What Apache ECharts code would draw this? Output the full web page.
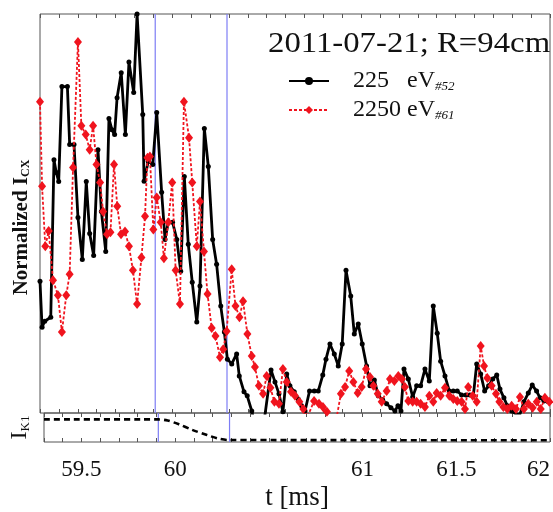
<!DOCTYPE html>
<html>
<head>
<meta charset="utf-8">
<script src="https://cdn.jsdelivr.net/npm/echarts@6/dist/echarts.min.js"></script>
<style>
html, body { margin: 0; padding: 0; background: #fff; }
#chart { width: 553px; height: 512px; }
</style>
</head>
<body>
<div id="chart"></div>
<script>
// x tick labels shown on the time axis (60.5 is not printed in the original)
const tickLabels = [59.5, 60, 61, 61.5, 62]
// blue vertical markers [ms]
const markTimes = [59.91, 60.29]

// normalized I_CX, 225 eV (#52)
const ev225 = [
  [59.300, 0.330], [59.311, 0.215], [59.325, 0.230], [59.357, 0.240], [59.374, 0.635], [59.386, 0.603],
  [59.399, 0.580], [59.416, 0.818], [59.445, 0.818], [59.457, 0.673], [59.480, 0.673], [59.501, 0.490],
  [59.524, 0.385], [59.545, 0.580], [59.563, 0.450], [59.584, 0.395], [59.607, 0.660], [59.625, 0.505],
  [59.648, 0.405], [59.665, 0.738], [59.681, 0.710], [59.695, 0.698], [59.708, 0.790], [59.730, 0.853],
  [59.752, 0.698], [59.771, 0.880], [59.796, 0.803], [59.814, 1.000], [59.844, 0.748], [59.851, 0.581],
  [59.873, 0.631], [59.897, 0.623], [59.918, 0.753], [59.944, 0.553], [59.962, 0.435], [59.979, 0.478],
  [60.002, 0.478], [60.024, 0.435], [60.045, 0.355], [60.064, 0.593], [60.085, 0.423], [60.106, 0.328],
  [60.130, 0.228], [60.147, 0.318], [60.170, 0.713], [60.191, 0.618], [60.214, 0.435], [60.235, 0.373],
  [60.257, 0.268], [60.276, 0.203], [60.292, 0.135], [60.315, 0.123], [60.341, 0.148], [60.355, 0.093],
  [60.380, 0.053], [60.397, 0.043], [60.421, 0.005], [60.443, -0.040], [60.465, -0.040], [60.491, -0.005],
  [60.523, 0.108], [60.544, 0.078], [60.565, 0.048], [60.586, 0.003], [60.606, 0.098], [60.623, 0.068],
  [60.646, 0.053], [60.667, 0.035], [60.685, 0.018], [60.703, 0.005], [60.727, 0.055], [60.752, 0.055],
  [60.773, 0.055], [60.797, 0.095], [60.814, 0.135], [60.835, 0.173], [60.858, 0.148], [60.879, 0.118],
  [60.900, 0.173], [60.920, 0.358], [60.945, 0.293], [60.964, 0.198], [60.985, 0.223], [61.006, 0.173],
  [61.029, 0.118], [61.047, 0.068], [61.070, 0.083], [61.091, 0.043], [61.114, 0.033], [61.135, 0.023],
  [61.158, 0.013], [61.179, 0.005], [61.195, 0.018], [61.211, 0.005], [61.227, 0.110], [61.250, 0.085],
  [61.273, 0.040], [61.294, 0.068], [61.315, 0.068], [61.338, 0.110], [61.361, 0.080], [61.382, 0.268],
  [61.403, 0.200], [61.421, 0.130], [61.444, 0.093], [61.467, 0.055], [61.488, 0.055], [61.509, 0.055],
  [61.532, 0.045], [61.555, 0.045], [61.576, 0.045], [61.594, 0.043], [61.612, 0.123], [61.633, 0.098],
  [61.654, 0.055], [61.675, 0.068], [61.697, 0.085], [61.718, 0.095], [61.735, 0.060], [61.756, 0.038],
  [61.774, 0.018], [61.797, 0.005], [61.820, -0.003], [61.841, -0.003], [61.862, 0.028], [61.885, 0.050],
  [61.906, 0.070], [61.929, 0.055], [61.947, 0.038], [61.968, 0.030], [61.991, 0.028]
]

// normalized I_CX, 2250 eV (#61)
const ev2250 = [
  [59.300, 0.780], [59.311, 0.568], [59.328, 0.418], [59.346, 0.456], [59.369, 0.333], [59.395, 0.295],
  [59.416, 0.203], [59.439, 0.295], [59.457, 0.348], [59.475, 0.615], [59.501, 0.930], [59.519, 0.720],
  [59.542, 0.698], [59.563, 0.660], [59.581, 0.720], [59.599, 0.623], [59.618, 0.578], [59.634, 0.505],
  [59.655, 0.448], [59.673, 0.453], [59.692, 0.623], [59.709, 0.518], [59.729, 0.448], [59.750, 0.455],
  [59.771, 0.418], [59.792, 0.358], [59.814, 0.273], [59.837, 0.390], [59.856, 0.493], [59.869, 0.640],
  [59.882, 0.643], [59.900, 0.460], [59.918, 0.540], [59.939, 0.478], [59.956, 0.388], [59.979, 0.478],
  [60.000, 0.578], [60.018, 0.358], [60.041, 0.273], [60.062, 0.780], [60.089, 0.690], [60.106, 0.578],
  [60.130, 0.418], [60.147, 0.530], [60.168, 0.405], [60.187, 0.298], [60.209, 0.213], [60.229, 0.193],
  [60.253, 0.140], [60.270, 0.160], [60.288, 0.205], [60.315, 0.360], [60.335, 0.268], [60.356, 0.240],
  [60.375, 0.280], [60.398, 0.198], [60.421, 0.143], [60.438, 0.115], [60.459, 0.068], [60.481, 0.048],
  [60.500, 0.093], [60.520, 0.063], [60.541, 0.028], [60.565, 0.023], [60.586, 0.110], [60.606, 0.078],
  [60.629, 0.053], [60.650, 0.043], [60.673, 0.028], [60.694, 0.010], [60.716, -0.010], [60.751, 0.030],
  [60.777, 0.023], [60.798, 0.015], [60.819, 0.003], [60.841, -0.020], [60.867, -0.020], [60.893, 0.048],
  [60.915, 0.065], [60.937, 0.105], [60.959, 0.078], [60.982, 0.050], [61.003, 0.065], [61.026, 0.110],
  [61.047, 0.090], [61.065, 0.068], [61.088, 0.048], [61.109, 0.028], [61.135, 0.055], [61.153, 0.085],
  [61.176, 0.080], [61.197, 0.093], [61.216, 0.085], [61.232, 0.065], [61.250, 0.030], [61.273, 0.028],
  [61.294, 0.028], [61.315, 0.023], [61.338, 0.015], [61.361, 0.043], [61.382, 0.028], [61.400, 0.050],
  [61.421, 0.043], [61.444, 0.063], [61.467, 0.043], [61.488, 0.035], [61.509, 0.030], [61.532, 0.028],
  [61.550, 0.010], [61.567, 0.065], [61.591, 0.043], [61.612, 0.028], [61.633, 0.168], [61.651, 0.118],
  [61.668, 0.088], [61.691, 0.068], [61.714, 0.048], [61.732, 0.028], [61.753, 0.015], [61.774, 0.010],
  [61.797, 0.018], [61.820, 0.010], [61.841, 0.040], [61.862, 0.010], [61.885, 0.023], [61.908, 0.013],
  [61.930, 0.028], [61.951, 0.010], [61.973, 0.038], [61.996, 0.028]
]

// I_K1 trace (bottom panel)
const ik1 = [
  [59.30, 0.78], [59.91, 0.78], [59.96, 0.74], [60.02, 0.61], [60.09, 0.42],
  [60.17, 0.24], [60.23, 0.12], [60.28, 0.07], [62.00, 0.06]
]

const serif = 'Liberation Serif'

function timeAxis (grid, pos, withLabels) {
  return {
    type: 'value',
    gridIndex: grid,
    position: pos,
    min: 59.3,
    max: 62,
    interval: 0.1,
    axisLine: { show: false },
    axisTick: { show: true, inside: true, length: 4, lineStyle: { color: '#555' } },
    splitLine: { show: false },
    axisLabel: withLabels ? {
      show: true,
      interval: 0,
      margin: 16,
      fontFamily: serif,
      fontSize: 23,
      color: '#111',
      alignMaxLabel: 'right',
      formatter: function (v) {
        let t = tickLabels.find(x => Math.abs(x - v) < 1e-6)
        return t === undefined ? '' : String(t)
      }
    } : { show: false }
  }
}

let xBottom = timeAxis(1, 'bottom', true)
xBottom.name = 't [ms]'
xBottom.nameLocation = 'middle'
xBottom.nameGap = 42
xBottom.nameTextStyle = { fontFamily: serif, fontSize: 27, color: '#111' }

// vertical marker series, one per marker time, in a given panel
function blueLines (xi, yi) {
  return markTimes.map(t => ({
    type: 'line',
    xAxisIndex: xi,
    yAxisIndex: yi,
    data: [[t, 0], [t, 1]],
    z: 1,
    silent: true,
    symbol: 'none',
    lineStyle: { color: '#7d7df5', width: 1.2 }
  }))
}

let myChart = echarts.init(document.getElementById('chart'))
myChart.setOption({
  animation: false,
  graphic: [
    {
      type: 'text',
      left: 268,
      top: 30,
      scaleX: 1.13,
      style: { text: '2011-07-21; R=94cm', fontFamily: serif, fontSize: 29, fill: '#111' }
    }
  ],
  legend: {
    orient: 'vertical',
    left: 283,
    top: 64,
    itemWidth: 40,
    itemHeight: 10,
    itemGap: 5,
    data: ['225', '2250'],
    formatter: function (name) {
      return name === '225' ? '{g|}{a|225   eV}{s|#52}' : '{g|}{a|2250 eV}{s|#61}'
    },
    textStyle: {
      fontFamily: serif,
      fontSize: 24,
      color: '#111',
      rich: {
        g: { width: 19 },
        a: { fontFamily: serif, fontSize: 24, color: '#111' },
        s: { fontFamily: serif, fontSize: 13, fontStyle: 'italic', color: '#111', verticalAlign: 'bottom', padding: [11, 0, 0, 0] }
      }
    }
  },
  grid: [
    { left: 40, right: 3, top: 14, height: 399, show: true, borderColor: '#555', borderWidth: 1 },
    { left: 40, right: 3, top: 413, height: 44, show: true, borderColor: '#555', borderWidth: 1 }
  ],
  xAxis: [
    timeAxis(0, 'bottom', false),
    timeAxis(0, 'top', false),
    xBottom,
    timeAxis(1, 'top', false)
  ],
  yAxis: [
    {
      type: 'value',
      gridIndex: 0,
      min: 0,
      max: 1,
      axisLine: { show: false },
      axisTick: { show: false },
      axisLabel: { show: false },
      splitLine: { show: false },
      name: '{a|Normalized I}{s|CX}',
      nameLocation: 'middle',
      nameGap: 8,
      nameTextStyle: {
        fontFamily: serif,
        fontSize: 21,
        fontWeight: 'bold',
        color: '#111',
        padding: [0, 28, 0, 0],
        rich: {
          a: { fontFamily: serif, fontSize: 21, fontWeight: 'bold', color: '#111' },
          s: { fontFamily: serif, fontSize: 12, fontWeight: 'bold', color: '#111', verticalAlign: 'bottom', padding: [9, 0, 0, 0] }
        }
      }
    },
    {
      type: 'value',
      gridIndex: 1,
      min: 0,
      max: 1,
      axisLine: { show: false },
      axisTick: { show: false },
      axisLabel: { show: false },
      splitLine: { show: false },
      name: '{a|I}{s|K1}',
      nameLocation: 'middle',
      nameGap: 12,
      nameTextStyle: {
        fontFamily: serif,
        fontSize: 24,
        color: '#111',
        rich: {
          a: { fontFamily: serif, fontSize: 24, color: '#111' },
          s: { fontFamily: serif, fontSize: 13, color: '#111', verticalAlign: 'bottom', padding: [10, 0, 0, 0] }
        }
      }
    }
  ],
  series: [
    ...blueLines(0, 0),
    ...blueLines(2, 1),
    {
      name: '225',
      type: 'line',
      xAxisIndex: 0,
      yAxisIndex: 0,
      data: ev225,
      z: 3,
      symbol: 'circle',
      symbolSize: 5,
      color: '#000',
      lineStyle: { color: '#000', width: 2.8 },
      itemStyle: { color: '#000' }
    },
    {
      name: '2250',
      type: 'line',
      xAxisIndex: 0,
      yAxisIndex: 0,
      data: ev2250,
      z: 4,
      symbol: 'diamond',
      symbolSize: [8, 10],
      color: '#f0141e',
      lineStyle: { color: '#f0141e', width: 1.8, type: [3, 2] },
      itemStyle: { color: '#f0141e' }
    },
    {
      name: 'ik1',
      type: 'line',
      xAxisIndex: 2,
      yAxisIndex: 1,
      data: ik1,
      z: 3,
      symbol: 'none',
      smooth: 0.3,
      lineStyle: { color: '#000', width: 2.6, type: [6, 4] }
    }
  ]
})
window.addEventListener('resize', function () {
  myChart.resize()
})
</script>
</body>
</html>
